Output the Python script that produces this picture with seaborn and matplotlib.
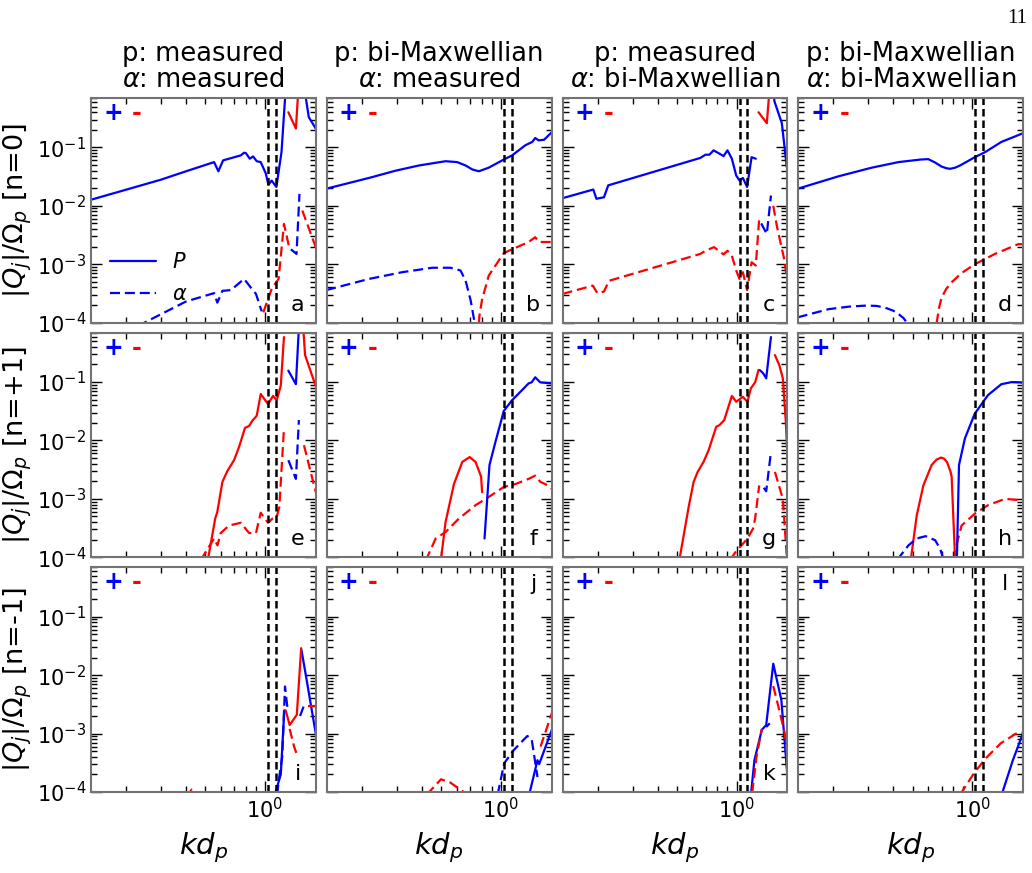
import numpy as np
import pandas as pd
import matplotlib
matplotlib.use("Agg")
import matplotlib.pyplot as plt
from matplotlib.lines import Line2D
from matplotlib.ticker import NullFormatter
import seaborn as sns

# signed Q_j/Omega_p (negative -> red, positive -> blue)
a_p_k = [0.133, 0.20, 0.299, 0.40, 0.554, 0.582, 0.615, 0.755, 0.784, 0.80, 0.838, 0.87, 0.908, 0.951, 1.008, 1.039, 1.08, 1.14, 1.21, 1.28, 1.31, 1.43, 1.49, 1.53, 1.66, 1.80]
a_p_q = [0.0127, 0.0189, 0.028, 0.039, 0.056, 0.039, 0.060, 0.073, 0.081, 0.080, 0.064, 0.070, 0.058, 0.056, 0.036, 0.023, 0.027, 0.021, 0.083, 1.5, -0.40, -0.21, -2.0, 2.0, 0.33, 0.21]
a_a_k = [0.20, 0.247, 0.40, 0.554, 0.575, 0.61, 0.673, 0.784, 0.847, 0.90, 0.962, 0.98, 1.08, 1.17, 1.245, 1.32, 1.35, 1.44, 1.49, 1.54, 1.80]
a_a_q = [6e-5, 1.0e-4, 2.3e-4, 3.2e-4, 2.2e-4, 3.5e-4, 3.6e-4, 5.6e-4, 4.0e-4, 3.1e-4, 1.56e-4, -1.5e-4, -3.8e-4, -5.6e-4, -4.9e-3, -2.0e-3, 1.8e-3, 1.5e-3, 0.016, -8.3e-3, -1.95e-3]

b_p_k = [0.132, 0.217, 0.296, 0.387, 0.527, 0.603, 0.665, 0.718, 0.775, 0.87, 1.035, 1.14, 1.33, 1.44, 1.49, 1.55, 1.65, 1.80]
b_p_q = [0.0196, 0.030, 0.040, 0.049, 0.058, 0.056, 0.049, 0.042, 0.039, 0.045, 0.062, 0.073, 0.109, 0.124, 0.145, 0.132, 0.135, 0.18]
b_a_k = [0.132, 0.217, 0.319, 0.452, 0.558, 0.627, 0.665, 0.705, 0.738, 0.75, 0.762, 0.78, 0.805, 0.87, 1.035, 1.14, 1.38, 1.49, 1.56, 1.80]
b_a_q = [3.6e-4, 5.6e-4, 7.3e-4, 8.7e-4, 8.7e-4, 7.8e-4, 5.2e-4, 2.4e-4, 1.0e-4, 3e-5, -3e-5, -1.3e-4, -2.5e-4, -6.4e-4, -1.55e-3, -1.8e-3, -2.4e-3, -2.9e-3, -2.4e-3, -2.4e-3]

c_p_k = [0.133, 0.190, 0.197, 0.215, 0.226, 0.657, 0.697, 0.73, 0.766, 0.81, 0.86, 0.90, 0.947, 0.996, 1.035, 1.076, 1.13, 1.19, 1.25, 1.29, 1.42, 1.49, 1.515, 1.55, 1.69, 1.79]
c_p_q = [0.0135, 0.019, 0.0132, 0.014, 0.0224, 0.066, 0.075, 0.075, 0.089, 0.080, 0.071, 0.089, 0.064, 0.033, 0.027, 0.030, 0.021, 0.068, 0.064, -0.40, -0.26, -2.0, 2.0, 0.62, 0.26, 0.046]
c_a_k = [0.133, 0.189, 0.199, 0.215, 0.228, 0.657, 0.697, 0.77, 0.86, 0.90, 0.947, 0.996, 1.035, 1.076, 1.13, 1.19, 1.25, 1.30, 1.33, 1.42, 1.49, 1.53, 1.60, 1.73, 1.79]
c_a_q = [-3.1e-4, -4.3e-4, -3.2e-4, -3.4e-4, -5.2e-4, -1.5e-3, -1.7e-3, -1.96e-3, -1.47e-3, -1.7e-3, -1.4e-3, -7.8e-4, -5.6e-4, -7.3e-4, -3.6e-4, -1.08e-3, -9.5e-4, -6.0e-3, 5.0e-3, 3.3e-3, 0.015, -0.010, -4.3e-3, -1.3e-3, -6.0e-4]

d_p_k = [0.132, 0.212, 0.312, 0.425, 0.55, 0.60, 0.65, 0.70, 0.74, 0.773, 0.82, 0.867, 1.03, 1.16, 1.40, 1.80]
d_p_q = [0.0196, 0.032, 0.045, 0.056, 0.062, 0.063, 0.055, 0.047, 0.044, 0.043, 0.045, 0.049, 0.068, 0.083, 0.124, 0.175]
d_a_k = [0.132, 0.189, 0.24, 0.294, 0.33, 0.364, 0.40, 0.425, 0.45, 0.468, 0.49, 0.64, 0.662, 0.68, 0.701, 0.74, 0.787, 0.88, 1.03, 1.30, 1.70, 1.80]
d_a_q = [1.23e-4, 1.7e-4, 1.88e-4, 1.96e-4, 1.93e-4, 1.8e-4, 1.6e-4, 1.4e-4, 1.2e-4, 1.0e-4, 5e-5, -3e-5, -1.0e-4, -1.8e-4, -2.7e-4, -3.8e-4, -4.9e-4, -7e-4, -1.0e-3, -1.5e-3, -2.2e-3, -2.2e-3]

e_p_k = [0.50, 0.561, 0.575, 0.61, 0.646, 0.698, 0.74, 0.793, 0.831, 0.863, 0.908, 0.951, 1.035, 1.097, 1.145, 1.20, 1.245, 1.31, 1.43, 1.50, 1.54, 1.59, 1.80]
e_p_q = [-5e-5, -4.6e-4, -6.0e-4, -1.96e-3, -3.0e-3, -4.6e-3, -7.8e-3, -0.0165, -0.0177, -0.0218, -0.0265, -0.0625, -0.042, -0.058, -0.049, -0.087, -0.59, 0.157, 0.092, 2.0, -1.5, -0.29, -0.085]
e_a_k = [0.46, 0.484, 0.527, 0.554, 0.576, 0.598, 0.659, 0.755, 0.831, 0.90, 0.951, 1.035, 1.09, 1.145, 1.18, 1.245, 1.31, 1.43, 1.48, 1.57, 1.80]
e_a_q = [-5e-5, -1.0e-4, -1.6e-4, -2.1e-4, -1.6e-4, -2.6e-4, -3.5e-4, -3.9e-4, -2.6e-4, -2.6e-4, -5.8e-4, -3.9e-4, -4.6e-4, -4.9e-4, -7.3e-4, -0.016, 4.6e-3, 2.2e-3, 0.0224, -8.3e-3, -1.3e-3]

f_p_k = [0.48, 0.527, 0.581, 0.64, 0.697, 0.746, 0.796, 0.805, 0.828, 0.877, 0.94, 1.035, 1.14, 1.28, 1.38, 1.43, 1.49, 1.58, 1.80]
f_p_q = [-3e-5, -4.0e-4, -1.8e-3, -4.3e-3, -5.2e-3, -4.3e-3, -2.4e-3, -1.3e-3, 2.1e-4, 3.8e-3, 9.5e-3, 0.032, 0.049, 0.073, 0.095, 0.099, 0.121, 0.099, 0.095]
f_a_k = [0.40, 0.426, 0.47, 0.527, 0.615, 0.746, 0.87, 1.035, 1.186, 1.38, 1.49, 1.58, 1.73, 1.80]
f_a_q = [-5e-5, -1.0e-4, -2.1e-4, -2.7e-4, -4.6e-4, -7.8e-4, -1.08e-3, -1.6e-3, -1.8e-3, -2.2e-3, -2.5e-3, -1.96e-3, -1.7e-3, -1.5e-3]

g_p_k = [0.50, 0.574, 0.608, 0.637, 0.682, 0.723, 0.79, 0.82, 0.867, 0.947, 0.996, 1.076, 1.135, 1.18, 1.24, 1.29, 1.31, 1.36, 1.41, 1.49, 1.56, 1.64, 1.71, 1.77, 1.80]
g_p_q = [-5e-5, -7.3e-4, -1.96e-3, -2.9e-3, -4.3e-3, -6.8e-3, -0.0172, -0.0183, -0.0224, -0.058, -0.046, -0.056, -0.046, -0.078, -0.099, -0.161, 0.16, 0.142, 0.116, 0.59, -0.29, -0.196, -0.116, -0.021, -0.006]
g_a_k = [0.92, 0.947, 1.0, 1.076, 1.135, 1.21, 1.24, 1.30, 1.37, 1.41, 1.49, 1.56, 1.71, 1.77, 1.80]
g_a_q = [-5e-5, -1.0e-4, -1.3e-4, -1.7e-4, -2.1e-4, -3.1e-4, -4.6e-4, -1.7e-3, 1.55e-3, 1.35e-3, 6.4e-3, -2.9e-3, -1.0e-3, -1.8e-4, -8e-5]

h_p_k = [0.485, 0.492, 0.525, 0.567, 0.624, 0.66, 0.696, 0.72, 0.745, 0.775, 0.787, 0.818, 0.825, 0.83, 0.857, 0.918, 1.03, 1.20, 1.40, 1.58, 1.75, 1.80]
h_p_q = [-5e-5, -1e-4, -5.2e-4, -1.7e-3, -3.8e-3, -4.7e-3, -5.1e-3, -4.9e-3, -4.3e-3, -3.0e-3, -2.4e-3, -1e-4, -3e-5, 3e-5, 3.8e-3, 0.0109, 0.029, 0.060, 0.092, 0.10, 0.099, 0.097]
h_a_k = [0.41, 0.428, 0.477, 0.525, 0.582, 0.65, 0.689, 0.71, 0.73, 0.80, 0.818, 0.835, 0.883, 1.03, 1.20, 1.46, 1.75, 1.80]
h_a_q = [5e-5, 1.0e-4, 1.6e-4, 2.1e-4, 2.3e-4, 1.96e-4, 1.4e-4, 1.0e-4, 4e-5, -5e-5, -1.0e-4, -1.7e-4, -3.5e-4, -5.6e-4, -7.8e-4, -1.0e-3, -9.5e-4, -9.3e-4]

i_p_k = [1.10, 1.13, 1.20, 1.25, 1.27, 1.33, 1.445, 1.52, 1.525, 1.63, 1.80]
i_p_q = [3e-5, 1e-4, 2e-4, 2.5e-3, -2.5e-3, -1.4e-3, -2.1e-3, -0.029, 0.027, 7.3e-3, 1.0e-3]
i_a_k = [0.40, 0.427, 0.46, 1.13, 1.17, 1.22, 1.26, 1.30, 1.33, 1.40, 1.46, 1.50, 1.58, 1.65, 1.80]
i_a_q = [-8e-5, -1.1e-4, -8e-5, 5e-5, 1.5e-4, 4e-4, 6.4e-3, 2.5e-3, -1.2e-3, -6e-4, -4e-4, 2e-3, 3.2e-3, -3e-3, -3e-3]

j_p_k = [1.36, 1.40, 1.53, 1.56, 1.82]
j_p_q = [3e-5, 1e-4, 3.5e-4, 3.0e-4, 1.24e-3]
j_a_k = [0.41, 0.436, 0.50, 0.557, 0.65, 0.68, 0.95, 0.97, 1.04, 1.16, 1.36, 1.43, 1.53, 1.585, 1.82]
j_a_q = [-5e-5, -1e-4, -1.65e-4, -1.45e-4, -1e-4, -5e-5, 5e-5, 1e-4, 3.1e-4, 5.2e-4, 9.1e-4, 8e-4, 1.8e-4, -6e-4, -2.4e-3]

k_p_k = [1.16, 1.185, 1.23, 1.34, 1.41, 1.53, 1.68, 1.80]
k_p_q = [3e-5, 1e-4, 3.5e-4, 1.16e-3, 1.4e-3, 0.0157, 3.8e-3, 2e-4]
k_a_k = [1.16, 1.20, 1.26, 1.34, 1.41, 1.47, 1.53, 1.62, 1.75, 1.80]
k_a_q = [-3e-5, -1e-4, -4e-4, -1.2e-3, 1.3e-3, 1.5e-3, -6.5e-3, -3e-3, -1e-3, -4e-4]

l_p_k = [1.38, 1.42, 1.60, 1.84]
l_p_q = [3e-5, 1e-4, 3.5e-4, 1.24e-3]
l_a_k = [0.85, 0.885, 1.02, 1.17, 1.39, 1.66, 1.84]
l_a_q = [-5e-5, -1e-4, -2.1e-4, -3.8e-4, -6.8e-4, -1.0e-3, -1.05e-3]

col_titles = ["p: measured\n$\\alpha$: measured", "p: bi-Maxwellian\n$\\alpha$: measured",
              "p: measured\n$\\alpha$: bi-Maxwellian", "p: bi-Maxwellian\n$\\alpha$: bi-Maxwellian"]
row_labels = ["$|Q_j|/\\Omega_p$ [n=0]", "$|Q_j|/\\Omega_p$ [n=+1]", "$|Q_j|/\\Omega_p$ [n=-1]"]
letters = list("abcdefghijkl")
letter_top = {"j", "l"}
vlines_kd = [1.035, 1.135]

panels = [
    (a_p_k, a_p_q, a_a_k, a_a_q), (b_p_k, b_p_q, b_a_k, b_a_q),
    (c_p_k, c_p_q, c_a_k, c_a_q), (d_p_k, d_p_q, d_a_k, d_a_q),
    (e_p_k, e_p_q, e_a_k, e_a_q), (f_p_k, f_p_q, f_a_k, f_a_q),
    (g_p_k, g_p_q, g_a_k, g_a_q), (h_p_k, h_p_q, h_a_k, h_a_q),
    (i_p_k, i_p_q, i_a_k, i_a_q), (j_p_k, j_p_q, j_a_k, j_a_q),
    (k_p_k, k_p_q, k_a_k, k_a_q), (l_p_k, l_p_q, l_a_k, l_a_q),
]


def to_frame(k, q, species):
    # split a signed curve into runs of constant sign
    k = np.asarray(k, float)
    q = np.asarray(q, float)
    s = np.sign(q)
    rows = []
    start = 0
    seg = 0
    for i in range(1, len(q) + 1):
        if i == len(q) or s[i] != s[start]:
            for j in range(start, i):
                rows.append((k[j], abs(q[j]), "+" if s[start] > 0 else "-", species, f"{species}{seg}"))
            seg += 1
            start = i
    return pd.DataFrame(rows, columns=["kd", "Q", "sign", "sp", "seg"])


sns.set_style("ticks")
plt.rcParams["font.family"] = ["DejaVu Sans"]
plt.rcParams["mathtext.fontset"] = "dejavusans"
for key in ["text.color", "axes.labelcolor", "xtick.color", "ytick.color"]:
    plt.rcParams[key] = "black"

fig, axes = plt.subplots(3, 4, figsize=(10.32, 8.73), dpi=100)
fig.subplots_adjust(left=0.0882, right=0.9913, top=0.8877, bottom=0.0928, wspace=0.049, hspace=0.045)

for n, ax in enumerate(axes.flat):
    r, c = divmod(n, 4)
    pk, pq, ak, aq = panels[n]
    df = pd.concat([to_frame(pk, pq, "P"), to_frame(ak, aq, "a")], ignore_index=True)
    sns.lineplot(data=df, x="kd", y="Q", hue="sign", style="sp", units="seg",
                 estimator=None, sort=False, palette={"+": "blue", "-": "red"},
                 dashes={"P": "", "a": (4.5, 2.2)}, style_order=["P", "a"],
                 lw=1.6, legend=False, ax=ax)
    for v in vlines_kd:
        ax.axvline(v, color="black", ls="--", lw=1.8, dashes=(3, 1.6))
    ax.set_xscale("log")
    ax.set_yscale("log")
    ax.set_xlim(0.133, 1.8)
    ax.set_ylim(1e-4, 0.7)
    ax.xaxis.set_minor_formatter(NullFormatter())
    ax.tick_params(which="both", direction="in", top=True, right=True, width=1, labelsize=15)
    ax.tick_params(which="major", length=8)
    ax.tick_params(which="minor", length=4.5)
    for sp in ax.spines.values():
        sp.set_color("0.45")
        sp.set_linewidth(1.5)
    ax.set_xlabel("")
    ax.set_ylabel("")
    if r < 2:
        ax.set_xticklabels([])
    else:
        ax.set_xlabel("$kd_p$", fontsize=21, labelpad=6)
    if c > 0:
        ax.set_yticklabels([])
    else:
        ax.set_ylabel(row_labels[r], fontsize=19.5, labelpad=2)
    if r == 0:
        ax.set_title(col_titles[c], fontsize=18.5, pad=8, linespacing=1.0)
    ax.text(0.098, 0.933, "+", color="blue", fontsize=17, fontweight="bold",
            ha="center", va="center", transform=ax.transAxes)
    ax.text(0.204, 0.933, "-", color="red", fontsize=17, fontweight="bold",
            ha="center", va="center", transform=ax.transAxes)
    ly = 0.925 if letters[n] in letter_top else 0.08
    ax.text(0.92, ly, letters[n], fontsize=16, ha="center", va="center", transform=ax.transAxes)

handles = [Line2D([], [], color="blue", lw=1.6, label="$P$"),
           Line2D([], [], color="blue", lw=1.6, dashes=(4.5, 2.2), label="$\\alpha$")]
axes[0, 0].legend(handles=handles, loc="lower left", bbox_to_anchor=(0.0, 0.0),
                  frameon=False, fontsize=15, handlelength=2.2, labelspacing=0.55)

fig.text(0.995, 0.99, "11", family="Liberation Serif", fontsize=15, ha="right", va="top")

fig.savefig("out.png", dpi=100)
